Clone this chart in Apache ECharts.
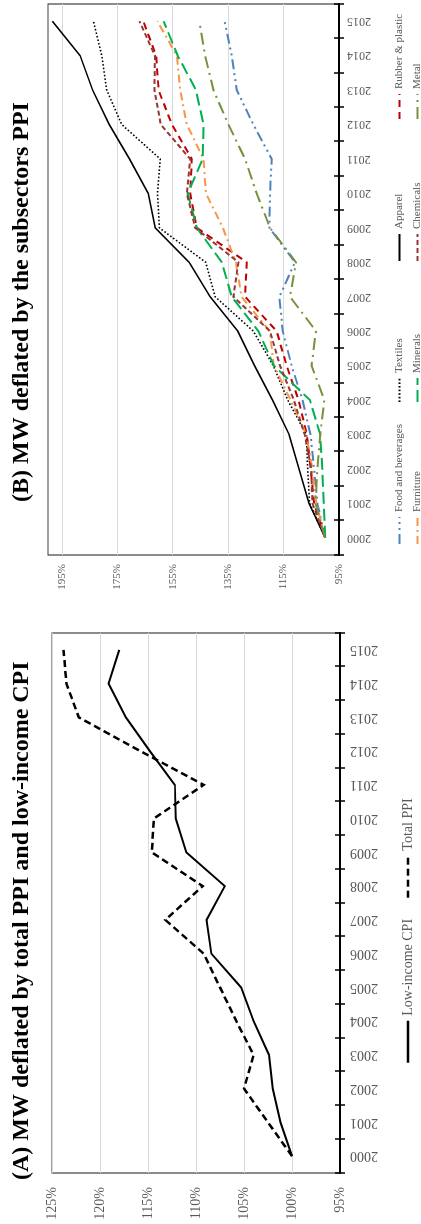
<!DOCTYPE html>
<html><head><meta charset="utf-8">
<script src="https://cdn.jsdelivr.net/npm/echarts@6/dist/echarts.min.js"></script>
<style>
html,body{margin:0;padding:0;width:421px;height:1224px;overflow:hidden;background:#fff}
#c{position:absolute;left:0;top:0;width:1224px;height:421px;transform-origin:0 0;transform:translate(0,1224px) rotate(-90deg);}
</style></head><body><div id="c"></div>
<script>
// ---- data ----
const years = ['2000','2001','2002','2003','2004','2005','2006','2007','2008','2009','2010','2011','2012','2013','2014','2015'];
// Panel A (percent)
const lowIncomeCPI = [100.0, 101.2, 102.0, 102.4, 104.0, 105.3, 108.4, 108.9, 107.0, 111.0, 112.1, 112.2, 114.8, 117.3, 119.1, 118.0];
const totalPPI     = [100.0, 102.5, 105.0, 104.0, 105.8, 107.5, 109.2, 113.2, 109.3, 114.6, 114.4, 109.2, 115.8, 122.2, 123.5, 123.8];
// Panel B (percent)
const foodBeverages = [100, 102.8, 104.0, 105.3, 108.2, 112.1, 115.3, 116.5, 110.9, 120.1, 119.9, 119.3, 125.9, 131.9, 133.7, 136.3];
const textiles      = [100, 105.6, 106.3, 106.8, 113.5, 118.7, 125.9, 139.7, 143.1, 159.8, 160.5, 159.5, 173.4, 178.8, 180.6, 183.6];
const apparel       = [100, 105.8, 109.4, 113.0, 119.0, 125.5, 131.5, 141.5, 149.1, 161.3, 163.8, 170.6, 177.9, 183.9, 188.4, 198.4];
const rubberPlastic = [100, 104.0, 105.2, 106.6, 109.6, 113.9, 117.5, 128.9, 128.3, 146.3, 148.7, 148.1, 155.3, 160.1, 161.0, 165.6];
const furniture     = [100, 103.2, 104.6, 106.8, 112.5, 118.5, 120.0, 130.2, 132.2, 136.9, 143.0, 143.9, 149.9, 152.3, 153.5, 160.5];
const minerals      = [100, 100.5, 101.0, 101.8, 105.5, 118.5, 124.1, 133.7, 137.3, 146.3, 149.6, 144.2, 143.9, 146.6, 153.2, 158.3];
const chemicals     = [100, 104.6, 105.0, 107.4, 111.3, 116.3, 119.9, 133.1, 131.3, 146.9, 149.9, 148.7, 159.3, 161.6, 161.4, 167.0];
const metal         = [100, 103.5, 102.8, 101.8, 100.3, 104.9, 103.3, 112.7, 110.5, 119.9, 124.7, 128.9, 134.9, 140.3, 143.3, 145.4];
// tick labels
const tickLabelsA = [95, 100, 105, 110, 115, 120, 125];
const tickLabelsB = [95, 115, 135, 155, 175, 195];

const FONT = 'Liberation Serif';
const GRAY = '#595959';

const chart = echarts.init(document.getElementById('c'), null, {renderer: 'canvas', width: 1224, height: 421});

function catAxis(grid, fontSize, margin, main) {
  return {
    type: 'category', gridIndex: grid, data: years, boundaryGap: true, position: 'bottom',
    axisLine: {show: main, lineStyle: {color: '#000', width: 2}},
    axisTick: {show: true, inside: !main, length: 5, lineStyle: {color: '#000', width: 1.5}},
    axisLabel: {show: main, rotate: 90, margin: margin, fontFamily: FONT, fontSize: fontSize, color: GRAY, interval: 0},
    splitLine: {show: false}
  };
}

function lineSeries(name, data, xi, yi, color, width, dash) {
  return {
    name: name, type: 'line', data: data, xAxisIndex: xi, yAxisIndex: yi,
    symbol: 'none', smooth: false, animation: false,
    lineStyle: {color: color, width: width, type: dash, cap: 'butt', join: 'miter'},
    itemStyle: {color: color}
  };
}

const legendCommon = {
  itemStyle: {color: 'rgba(0,0,0,0)', borderColor: 'rgba(0,0,0,0)', borderWidth: 0},
  padding: 0, selectedMode: false
};
function legendB(names, left, iw) {
  return Object.assign({}, legendCommon, {data: names, orient: 'vertical', left: left, top: 394, height: 60,
    itemWidth: iw, itemHeight: 10, itemGap: 7, lineStyle: {width: 2},
    textStyle: {fontFamily: FONT, color: GRAY, fontSize: 11}});
}

const option = {
  animation: false,
  backgroundColor: '#fff',
  title: [
    {text: '(A) MW deflated by total PPI and low-income CPI', left: 44, top: 10, padding: 0,
     textStyle: {fontFamily: FONT, fontWeight: 'bold', fontSize: 24, color: '#000', lineHeight: 24}},
    {text: '(B) MW deflated by the subsectors PPI', left: 722, top: 10, padding: 0,
     textStyle: {fontFamily: FONT, fontWeight: 'bold', fontSize: 24, color: '#000', lineHeight: 24}}
  ],
  grid: [
    {left: 51, top: 52, width: 540, height: 288, show: true, borderColor: '#404040', borderWidth: 1.2, backgroundColor: 'transparent'},
    {left: 669, top: 48, width: 551, height: 291, show: true, borderColor: '#404040', borderWidth: 1.2, backgroundColor: 'transparent'}
  ],
  xAxis: [
    catAxis(0, 14, 10, true),
    catAxis(0, 14, 10, false),
    catAxis(1, 12, 8, true),
    catAxis(1, 12, 8, false)
  ],
  yAxis: [
    {type: 'value', gridIndex: 0, min: 95, max: 125, interval: 5,
     axisLine: {show: false}, axisTick: {show: false},
     axisLabel: {margin: 14, fontFamily: FONT, fontSize: 14, color: GRAY,
       formatter: v => tickLabelsA.indexOf(Math.round(v)) >= 0 ? Math.round(v) + '%' : ''},
     splitLine: {show: true, lineStyle: {color: '#d9d9d9', width: 1}}},
    {type: 'value', gridIndex: 1, min: 95, max: 200, interval: 5,
     axisLine: {show: false}, axisTick: {show: false},
     axisLabel: {margin: 9, fontFamily: FONT, fontSize: 11, color: GRAY,
       formatter: v => tickLabelsB.indexOf(Math.round(v)) >= 0 ? Math.round(v) + '%' : ''},
     splitLine: {show: true, lineStyle: {color: ['#d9d9d9', 'rgba(0,0,0,0)', 'rgba(0,0,0,0)', 'rgba(0,0,0,0)'], width: 1}}}
  ],
  legend: [
    Object.assign({}, legendCommon, {data: ['Low-income CPI', 'Total PPI'], orient: 'horizontal', left: 160, top: 401,
      itemWidth: 42, itemHeight: 14, itemGap: 20, lineStyle: {width: 2.5},
      textStyle: {fontFamily: FONT, color: GRAY, fontSize: 14}}),
    legendB(['Food and beverages', 'Furniture'], 679, 27),
    legendB(['Textiles', 'Minerals'], 821, 24),
    legendB(['Apparel', 'Chemicals'], 962, 27),
    legendB(['Rubber & plastic', 'Metal'], 1104, 25)
  ],
  series: [
    lineSeries('Low-income CPI', lowIncomeCPI, 0, 0, '#000', 2, 'solid'),
    lineSeries('Total PPI', totalPPI, 0, 0, '#000', 2.5, [7, 4]),
    lineSeries('Food and beverages', foodBeverages, 2, 1, '#4F81BD', 2, [10, 4, 2, 4, 2, 4]),
    lineSeries('Textiles', textiles, 2, 1, '#000', 1.6, [1.6, 2]),
    lineSeries('Apparel', apparel, 2, 1, '#000', 1.6, 'solid'),
    lineSeries('Rubber & plastic', rubberPlastic, 2, 1, '#C00000', 2, [7, 5]),
    lineSeries('Furniture', furniture, 2, 1, '#F79646', 2, [8, 4, 2, 4]),
    lineSeries('Minerals', minerals, 2, 1, '#00B050', 2, [12, 5]),
    lineSeries('Chemicals', chemicals, 2, 1, '#953735', 2, [5, 3]),
    lineSeries('Metal', metal, 2, 1, '#76923C', 2, [12, 5, 2, 5])
  ]
};
chart.setOption(option);
</script></body></html>
